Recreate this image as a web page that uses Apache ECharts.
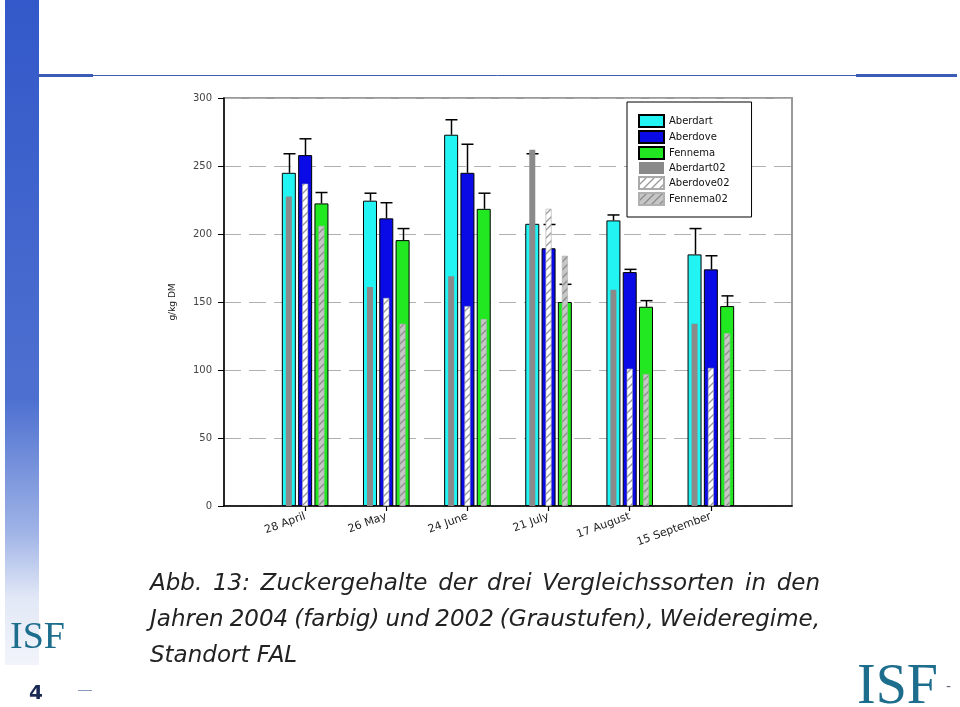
<!DOCTYPE html>
<html><head><meta charset="utf-8">
<script src="https://cdn.jsdelivr.net/npm/echarts@6/dist/echarts.min.js"></script>
<style>html,body{margin:0;padding:0;background:#fff}#c{width:960px;height:707px}</style>
</head><body><div id="c"></div>
<script>
// ---- data ----
const categories = ['28 April', '26 May', '24 June', '21 July', '17 August', '15 September'];
const aberdart   = [245, 224.5, 273, 207.5, 210, 185];
const aberdove   = [258, 211.5, 245, 189.5, 172, 174];
const fennema    = [222.5, 195.5, 218.5, 150, 146.5, 147];
const aberdartErr = [14, 5.5, 11, 51.5, 4, 19];
const aberdoveErr = [12, 11.5, 21, 17.5, 2, 10];
const fennemaErr  = [8, 8.5, 11.5, 13, 4.5, 7.5];
const aberdart02 = [227.5, 161, 169, 262, 159, 134];
const aberdove02 = [237, 153, 147, 218.5, 101, 101.5];
const fennema02  = [206, 134, 137.5, 184, 97, 127];
const yTicks = [0, 50, 100, 150, 200, 250, 300];
const captionLines = [
  'Abb. 13: Zuckergehalte der drei Vergleichssorten in den',
  'Jahren 2004 (farbig) und 2002 (Graustufen), Weideregime,',
  'Standort FAL'
];

// ---- build ----
const axisCats = [''].concat(categories, ['']);
const toPts = arr => arr.map((v, i) => [i + 1, v]);

function hatch(bg, fg) {
  const s = 8;
  const c = document.createElement('canvas'); c.width = s; c.height = s;
  const g = c.getContext('2d');
  g.fillStyle = bg; g.fillRect(0, 0, s, s);
  g.strokeStyle = fg; g.lineWidth = 1.3;
  g.beginPath();
  g.moveTo(0, s); g.lineTo(s, 0);
  g.moveTo(-2, 2); g.lineTo(2, -2);
  g.moveTo(s - 2, s + 2); g.lineTo(s + 2, s - 2);
  g.stroke();
  return c;
}

const BW = 14, STEP = 16.3;
const errData = [];
[aberdartErr, aberdoveErr, fennemaErr].forEach((errs, s) => {
  const base = [aberdart, aberdove, fennema][s];
  errs.forEach((e, i) => errData.push([i + 1, base[i], e, s]));
});

const chart = echarts.init(document.getElementById('c'), null, {renderer: 'canvas'});
const font = 'DejaVu Sans';
const teal = '#1d6d8c';

const graphic = [
  {type: 'rect', z: -10, shape: {x: 5, y: 0, width: 34, height: 665},
   style: {fill: new echarts.graphic.LinearGradient(0, 0, 0, 1, [
     {offset: 0, color: '#3358c9'}, {offset: 0.6, color: '#4d70d0'},
     {offset: 0.8, color: '#9fb3e6'}, {offset: 0.9, color: '#e2e8f6'}, {offset: 1, color: '#f1f4fa'}])}},
  {type: 'line', z: -10, shape: {x1: 38, y1: 75.5, x2: 957, y2: 75.5}, style: {stroke: '#3d5cb0', lineWidth: 1}},
  {type: 'line', z: -10, shape: {x1: 38, y1: 75.5, x2: 93, y2: 75.5}, style: {stroke: '#3a5cb4', lineWidth: 3}},
  {type: 'line', z: -10, shape: {x1: 856, y1: 75.5, x2: 957, y2: 75.5}, style: {stroke: '#3a5cb4', lineWidth: 3}},
  {type: 'text', left: 10, top: 619, style: {text: 'ISF', font: '38px "Liberation Serif"', fill: teal}},
  {type: 'text', left: 857, top: 660, style: {text: 'ISF', font: '56px "Liberation Serif"', fill: teal}},
  {type: 'text', left: 946, top: 680, style: {text: '-', font: '14px "DejaVu Sans"', fill: '#667'}},
  {type: 'text', left: 29, top: 684, style: {text: '4', font: 'bold 20px "DejaVu Sans"', fill: '#1b2a55'}},
  {type: 'line', shape: {x1: 78, y1: 690.5, x2: 92, y2: 690.5}, style: {stroke: '#8899bb', lineWidth: 1}}
];

// caption, justified like the original
const capFont = 'italic 23px "DejaVu Sans"';
const mctx = document.createElement('canvas').getContext('2d');
mctx.font = capFont;
captionLines.forEach((t, li) => {
  const words = t.split(' ');
  const widths = words.map(w => mctx.measureText(w).width);
  const total = widths.reduce((a, b) => a + b, 0);
  const justifyIt = li < captionLines.length - 1;
  const gap = justifyIt ? (820 - 150 - total) / (words.length - 1) : mctx.measureText(' ').width;
  let x = 150;
  words.forEach((w, k) => {
    graphic.push({type: 'text', left: x, top: 573 + li * 36, style: {text: w, font: capFont, fill: '#222'}});
    x += widths[k] + gap;
  });
});

chart.setOption({
  animation: false,
  backgroundColor: '#fff',
  graphic: graphic,
  grid: {left: 224, right: 168, top: 98, bottom: 201, show: true, borderColor: '#9a9a9a', borderWidth: 2, backgroundColor: 'transparent'},
  legend: {
    data: ['Aberdart', 'Aberdove', 'Fennema', 'Aberdart02', 'Aberdove02', 'Fennema02'],
    orient: 'vertical', left: 627, top: 102,
    itemWidth: 25, itemHeight: 12, itemGap: 2,
    padding: [12, 22, 11, 11],
    backgroundColor: '#fff', borderColor: '#000', borderWidth: 1, borderRadius: 0,
    textStyle: {fontFamily: font, fontSize: 10, color: '#111', lineHeight: 12},
    icon: 'rect'
  },
  xAxis: [
    {type: 'category', data: axisCats, boundaryGap: false,
     axisLine: {lineStyle: {color: '#000', width: 1.5}},
     axisTick: {length: 5, interval: i => i > 0 && i < axisCats.length - 1, lineStyle: {color: '#000', width: 1.2}},
     axisLabel: {interval: 0, rotate: 20, margin: 10, fontFamily: font, fontSize: 11, color: '#222'},
     splitLine: {show: false}},
    {type: 'category', data: axisCats, boundaryGap: false, show: false}
  ],
  yAxis: {
    type: 'value', min: yTicks[0], max: yTicks[yTicks.length - 1], interval: yTicks[1] - yTicks[0],
    name: 'g/kg DM', nameLocation: 'middle', nameGap: 47, nameRotate: 90,
    nameTextStyle: {fontFamily: font, fontSize: 9, color: '#222'},
    axisLine: {show: true, lineStyle: {color: '#000', width: 1.5}},
    axisTick: {show: true, length: 6, lineStyle: {color: '#000'}},
    axisLabel: {margin: 12, fontFamily: font, fontSize: 10, color: '#444'},
    splitLine: {show: true, lineStyle: {color: '#b0b0b0', width: 1.2, type: [17, 8]}}
  },
  series: [
    {name: 'Aberdart', type: 'bar', xAxisIndex: 0, data: toPts(aberdart), barWidth: BW, barGap: ((STEP - BW) / BW * 100) + '%', z: 2,
     itemStyle: {color: '#22f3f3', borderColor: '#000', borderWidth: 1}},
    {name: 'Aberdove', type: 'bar', xAxisIndex: 0, data: toPts(aberdove), barWidth: BW, z: 2,
     itemStyle: {color: '#0a0ae6', borderColor: '#000', borderWidth: 1}},
    {name: 'Fennema', type: 'bar', xAxisIndex: 0, data: toPts(fennema), barWidth: BW, z: 2,
     itemStyle: {color: '#22e822', borderColor: '#000', borderWidth: 1}},
    {name: 'Aberdart02', type: 'bar', xAxisIndex: 1, data: toPts(aberdart02), barWidth: 6, barGap: ((STEP - 6) / 6 * 100) + '%', z: 4,
     itemStyle: {color: '#8a8a8a'}},
    {name: 'Aberdove02', type: 'bar', xAxisIndex: 1, data: toPts(aberdove02), barWidth: 6, z: 4,
     itemStyle: {color: {image: hatch('#ffffff', '#999999'), repeat: 'repeat'}, borderColor: '#aaaaaa', borderWidth: 0.6}},
    {name: 'Fennema02', type: 'bar', xAxisIndex: 1, data: toPts(fennema02), barWidth: 6, z: 4,
     itemStyle: {color: {image: hatch('#c6c6c6', '#8c8c8c'), repeat: 'repeat'}, borderColor: '#b0b0b0', borderWidth: 0.6}},
    {name: 'err', type: 'custom', xAxisIndex: 0, z: 3, data: errData,
     renderItem: function (params, api) {
       const off = (api.value(3) - 1) * STEP;
       const p0 = api.coord([api.value(0), api.value(1)]);
       const p1 = api.coord([api.value(0), api.value(1) + api.value(2)]);
       const x = Math.round(p0[0] + off) + 0.5;
       return {type: 'group', children: [
         {type: 'line', shape: {x1: x, y1: p0[1], x2: x, y2: p1[1]}, style: {stroke: '#000', lineWidth: 1.5}},
         {type: 'line', shape: {x1: x - 6, y1: p1[1], x2: x + 6, y2: p1[1]}, style: {stroke: '#000', lineWidth: 1.5}}
       ]};
     }}
  ]
});
</script></body></html>
